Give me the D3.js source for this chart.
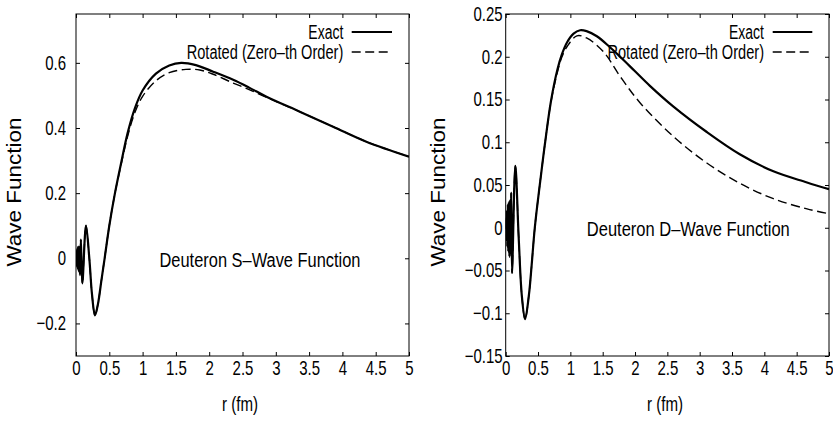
<!DOCTYPE html>
<html><head><meta charset="utf-8">
<script src="https://cdn.jsdelivr.net/npm/d3@7"></script>
<style>
body{margin:0;background:#fff;}
svg{display:block;font-family:"Liberation Sans",Arial,Helvetica,sans-serif;}
</style></head><body>
<svg id="c" width="833" height="422"></svg>
<script>
// ---------- data ----------
const xTicks = [0, 0.5, 1, 1.5, 2, 2.5, 3, 3.5, 4, 4.5, 5];
const sTicks = [-0.2, 0, 0.2, 0.4, 0.6];
const dTicks = [-0.15, -0.1, -0.05, 0, 0.05, 0.1, 0.15, 0.2, 0.25];
const seriesNames = ["Exact", "Rotated (Zero\u2013th Order)"];
const panelTitles = ["Deuteron S\u2013Wave Function", "Deuteron D\u2013Wave Function"];
const xTitle = "r (fm)";
const yTitle = "Wave Function";

const sExactR = [0,0.008,0.014,0.02,0.026,0.033,0.041,0.05,0.06,0.073,0.095,0.15,0.2,0.24,0.285,0.33,0.38,0.43,0.5,0.585,0.68,0.776,0.88,1.0,1.2,1.4,1.58,1.8,2.06,2.36,2.6,2.86,3.36,3.86,4.36,5.0];
const sExactV = [0,0.022,-0.025,0.03,-0.032,0.036,-0.04,0.035,-0.052,0.057,-0.077,0.10,0.0,-0.11,-0.175,-0.14,-0.07,0.0,0.1,0.2,0.295,0.385,0.458,0.515,0.567,0.592,0.600,0.593,0.573,0.548,0.524,0.496,0.450,0.404,0.358,0.312];

const sRotR = [0,0.008,0.014,0.02,0.026,0.033,0.041,0.05,0.06,0.073,0.095,0.15,0.2,0.24,0.285,0.33,0.38,0.43,0.5,0.585,0.68,0.776,0.88,1.0,1.2,1.4,1.65,1.86,2.06,2.36,2.6,2.86,3.36,3.86,4.36,5.0];
const sRotV = [0,0.022,-0.025,0.03,-0.032,0.036,-0.04,0.035,-0.052,0.057,-0.077,0.10,0.0,-0.11,-0.175,-0.14,-0.07,0.0,0.1,0.2,0.29,0.375,0.445,0.497,0.545,0.570,0.580,0.578,0.565,0.538,0.518,0.494,0.450,0.404,0.358,0.312];

const dExactR = [0,0.008,0.014,0.02,0.026,0.033,0.041,0.05,0.058,0.07,0.077,0.085,0.098,0.149,0.2,0.25,0.30,0.36,0.40,0.45,0.53,0.61,0.70,0.80,0.87,0.95,1.05,1.15,1.25,1.41,1.6,1.77,2.0,2.23,2.59,3.11,3.62,4.14,4.66,5.0];
const dExactV = [0,0.012,-0.015,0.02,-0.022,0.027,-0.028,0.03,-0.034,0.033,-0.03,0.041,-0.053,0.0725,-0.01,-0.08,-0.107,-0.078,-0.045,0.0,0.052,0.10,0.148,0.185,0.203,0.217,0.227,0.231,0.230,0.224,0.212,0.200,0.183,0.166,0.142,0.112,0.086,0.066,0.053,0.045];

const dRotR = [0,0.008,0.014,0.02,0.026,0.033,0.041,0.05,0.058,0.07,0.077,0.085,0.098,0.149,0.2,0.25,0.30,0.36,0.40,0.45,0.53,0.61,0.70,0.80,0.87,0.95,1.1,1.25,1.51,1.77,2.08,2.59,3.11,3.62,4.14,4.66,5.0];
const dRotV = [0,0.012,-0.015,0.02,-0.022,0.027,-0.028,0.03,-0.034,0.033,-0.03,0.041,-0.053,0.0725,-0.01,-0.08,-0.107,-0.078,-0.045,0.0,0.052,0.10,0.147,0.182,0.200,0.212,0.2245,0.222,0.206,0.177,0.146,0.107,0.0757,0.052,0.034,0.022,0.0164];

// ---------- layout ----------
const svg = d3.select("#c");
const FS = 20, SX = 0.75;

function squeeze(sel, sx) {
  sel.each(function () {
    const t = d3.select(this);
    const x = +t.attr("x") || 0, y = +t.attr("y") || 0;
    t.attr("x", 0).attr("y", 0).attr("transform", `translate(${x},${y}) scale(${sx},1)`);
  });
}

const panels = [
  { x0: 76, x1: 409, y0: 14, y1: 356, ydom: [-0.3, 0.75], yt: sTicks, ypad: 10,
    exact: [sExactR, sExactV], rot: [sRotR, sRotV], title: panelTitles[0],
    titleX: 260, titleY: 267, titleW: 201, yTitleX: 21, xTitleX: 240,
    legEnd: 343.3, legL0: 351.7, legL1: 392 },
  { x0: 505.7, x1: 829, y0: 14, y1: 356, ydom: [-0.15, 0.25], yt: dTicks, ypad: 3,
    exact: [dExactR, dExactV], rot: [dRotR, dRotV], title: panelTitles[1],
    titleX: 688.3, titleY: 236, titleW: 203, yTitleX: 445, xTitleX: 665,
    legEnd: 764, legL0: 772.7, legL1: 812.3 }
];

panels.forEach((p, i) => {
  const x = d3.scaleLinear().domain([0, 5]).range([p.x0, p.x1]);
  const y = d3.scaleLinear().domain(p.ydom).range([p.y1, p.y0]);
  const g = svg.append("g");
  const fmt = d3.format("~g");

  // axes with inward ticks
  const ax = [
    g.append("g").attr("transform", `translate(0,${p.y1})`)
      .call(d3.axisBottom(x).tickValues(xTicks).tickSize(-4).tickPadding(5).tickFormat(fmt)),
    g.append("g").attr("transform", `translate(${p.x0},0)`)
      .call(d3.axisLeft(y).tickValues(p.yt).tickSize(-4).tickPadding(p.ypad).tickFormat(fmt)),
    g.append("g").attr("transform", `translate(0,${p.y0})`)
      .call(d3.axisTop(x).tickValues(xTicks).tickSize(-4).tickFormat("")),
    g.append("g").attr("transform", `translate(${p.x1},0)`)
      .call(d3.axisRight(y).tickValues(p.yt).tickSize(-4).tickFormat(""))
  ];
  ax.forEach(a => {
    a.select(".domain").remove();
    a.selectAll("line").attr("stroke", "#000").attr("stroke-width", 1);
    a.selectAll("text").attr("font-size", FS).attr("fill", "#000")
      .attr("font-family", '"Liberation Sans",Arial,sans-serif');
    squeeze(a.selectAll("text"), SX);
  });

  g.append("rect").attr("x", p.x0).attr("y", p.y0)
    .attr("width", p.x1 - p.x0).attr("height", p.y1 - p.y0)
    .attr("fill", "none").attr("stroke", "#000").attr("stroke-width", 1);

  // titles
  g.append("text").attr("text-anchor", "middle").attr("font-size", FS)
    .attr("transform", `translate(${p.yTitleX},192) rotate(-90)`)
    .attr("textLength", 149).attr("lengthAdjust", "spacingAndGlyphs").text(yTitle);
  g.append("text").attr("text-anchor", "middle").attr("font-size", FS)
    .attr("x", p.xTitleX).attr("y", 411)
    .attr("textLength", 36).attr("lengthAdjust", "spacingAndGlyphs").text(xTitle);
  g.append("text").attr("text-anchor", "middle").attr("font-size", FS)
    .attr("x", p.titleX).attr("y", p.titleY)
    .attr("textLength", p.titleW).attr("lengthAdjust", "spacingAndGlyphs").text(p.title);

  // legend
  const legW = [35, 156.6];
  [0, 1].forEach(k => {
    const ly = 32 + k * 20;
    g.append("text").attr("text-anchor", "end").attr("font-size", FS)
      .attr("x", p.legEnd).attr("y", ly + 6.5)
      .attr("textLength", legW[k]).attr("lengthAdjust", "spacingAndGlyphs").text(seriesNames[k]);
    g.append("line").attr("x1", p.legL0).attr("x2", p.legL1).attr("y1", ly).attr("y2", ly)
      .attr("stroke", "#000").attr("stroke-width", k ? 1.4 : 2.2)
      .attr("stroke-dasharray", k ? "9,4.5" : null);
  });

  // curves
  const clipId = "clip" + i;
  svg.append("clipPath").attr("id", clipId).append("rect")
    .attr("x", p.x0).attr("y", p.y0).attr("width", p.x1 - p.x0).attr("height", p.y1 - p.y0);
  const line = d3.line().x(d => x(d[0])).y(d => y(d[1])).curve(d3.curveCatmullRom.alpha(0.5));
  const zip = (a) => a[0].map((r, j) => [r, a[1][j]]);
  g.append("path").datum(zip(p.rot)).attr("clip-path", `url(#${clipId})`)
    .attr("d", line).attr("fill", "none").attr("stroke", "#000")
    .attr("stroke-width", 1.4).attr("stroke-dasharray", "9,4.5");
  g.append("path").datum(zip(p.exact)).attr("clip-path", `url(#${clipId})`)
    .attr("d", line).attr("fill", "none").attr("stroke", "#000")
    .attr("stroke-width", 2.2).attr("stroke-linejoin", "round");
});
</script>
</body></html>
